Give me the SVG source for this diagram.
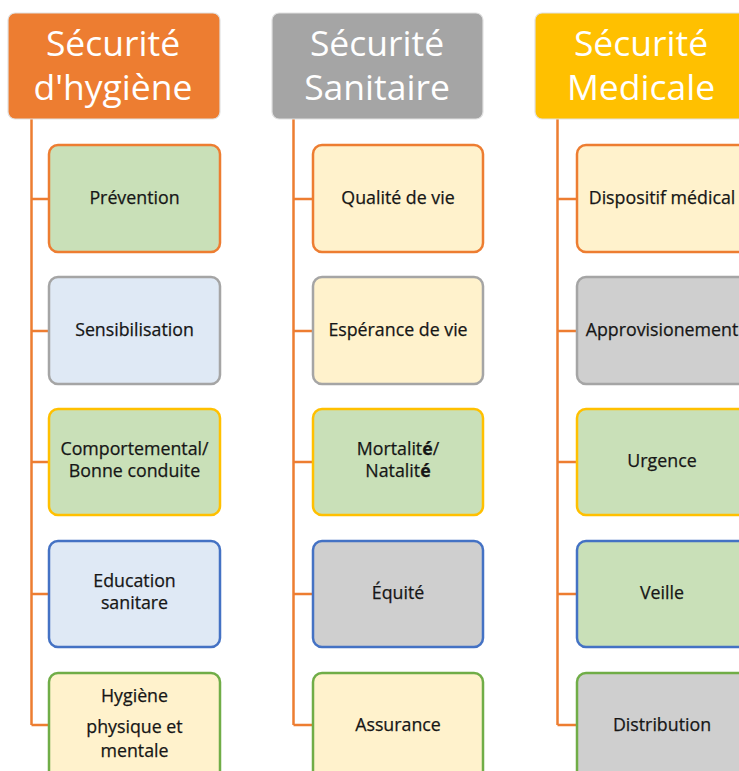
<svg xmlns="http://www.w3.org/2000/svg" width="739" height="771" viewBox="0 0 739 771">
  <style>
    .hdr { stroke: #E2E2E2; stroke-width: 1.2; }
    .htxt { font-family: "Open Sans", "Liberation Sans", sans-serif; font-size: 35.5px; fill: #FFFFFF; text-anchor: middle; }
    .box { stroke-width: 2.5; }
    .txt { font-family: "Open Sans", "Liberation Sans", sans-serif; font-size: 17.8px; fill: #161616; stroke: #161616; stroke-width: 0.25; text-anchor: middle; }
    .b-orange { stroke: #ED7D31; }
    .b-gray { stroke: #A5A5A5; }
    .b-gold { stroke: #FFC000; }
    .b-blue { stroke: #4472C4; }
    .b-green { stroke: #70AD47; }
    .f-green { fill: #C9E0B8; }
    .f-blue { fill: #DFE9F5; }
    .f-cream { fill: #FFF2CC; }
    .f-gray { fill: #CFCFCF; }
    .link { fill: none; stroke: #ED7D31; stroke-width: 2.5; }
  </style>

  <rect width="739" height="771" fill="#FFFFFF"/>

  <!-- tree connectors -->
  <g id="connectors">
    <path class="link" d="M31.5 119 V725 M31.5 199 H49 M31.5 331 H49 M31.5 462 H49 M31.5 594 H49 M31.5 725 H49"/>
    <path class="link" d="M293.5 119 V725 M293.5 199 H313 M293.5 331 H313 M293.5 462 H313 M293.5 594 H313 M293.5 725 H313"/>
    <path class="link" d="M557.5 119 V725 M557.5 199 H577 M557.5 331 H577 M557.5 462 H577 M557.5 594 H577 M557.5 725 H577"/>
  </g>

  <!-- column 1 -->
  <g id="hdr-hygiene">
    <rect class="hdr" x="8" y="13" width="212" height="106" rx="7" fill="#ED7D31"/>
    <text class="htxt" x="113" y="56">Sécurité</text>
    <text class="htxt" x="113" y="100">d'hygiène</text>
  </g>
  <g id="n-prevention">
    <rect class="box b-orange f-green" x="49" y="145" width="171" height="107" rx="9"/>
    <text class="txt" x="134.5" y="204">Prévention</text>
  </g>
  <g id="n-sensibilisation">
    <rect class="box b-gray f-blue" x="49" y="277" width="171" height="107" rx="9"/>
    <text class="txt" x="134.5" y="336">Sensibilisation</text>
  </g>
  <g id="n-comportemental">
    <rect class="box b-gold f-green" x="49" y="409" width="171" height="106" rx="9"/>
    <text class="txt" x="134.5" y="455">Comportemental/</text>
    <text class="txt" x="134.5" y="477">Bonne conduite</text>
  </g>
  <g id="n-education">
    <rect class="box b-blue f-blue" x="49" y="541" width="171" height="106" rx="9"/>
    <text class="txt" x="134.5" y="587">Education</text>
    <text class="txt" x="134.5" y="609">sanitare</text>
  </g>
  <g id="n-hygiene-physique">
    <rect class="box b-green f-cream" x="49" y="673" width="171" height="108" rx="9"/>
    <text class="txt" x="134.5" y="702">Hygiène</text>
    <text class="txt" x="134.5" y="733">physique et</text>
    <text class="txt" x="134.5" y="757">mentale</text>
  </g>

  <!-- column 2 -->
  <g id="hdr-sanitaire">
    <rect class="hdr" x="272" y="13" width="211" height="106" rx="7" fill="#A5A5A5"/>
    <text class="htxt" x="377" y="56">Sécurité</text>
    <text class="htxt" x="377" y="100">Sanitaire</text>
  </g>
  <g id="n-qualite">
    <rect class="box b-orange f-cream" x="313" y="145" width="170" height="107" rx="9"/>
    <text class="txt" x="398" y="204">Qualité de vie</text>
  </g>
  <g id="n-esperance">
    <rect class="box b-gray f-cream" x="313" y="277" width="170" height="107" rx="9"/>
    <text class="txt" x="398" y="336">Espérance de vie</text>
  </g>
  <g id="n-mortalite">
    <rect class="box b-gold f-green" x="313" y="409" width="170" height="106" rx="9"/>
    <text class="txt" x="398" y="455">Mortalit<tspan font-weight="bold">é</tspan>/</text>
    <text class="txt" x="398" y="477">Natalit<tspan font-weight="bold">é</tspan></text>
  </g>
  <g id="n-equite">
    <rect class="box b-blue f-gray" x="313" y="541" width="170" height="106" rx="9"/>
    <text class="txt" x="398" y="599">Équité</text>
  </g>
  <g id="n-assurance">
    <rect class="box b-green f-cream" x="313" y="673" width="170" height="108" rx="9"/>
    <text class="txt" x="398" y="731">Assurance</text>
  </g>

  <!-- column 3 -->
  <g id="hdr-medicale">
    <rect class="hdr" x="535" y="13" width="212" height="106" rx="7" fill="#FFC000"/>
    <text class="htxt" x="641" y="56">Sécurité</text>
    <text class="htxt" x="641" y="100">Medicale</text>
  </g>
  <g id="n-dispositif">
    <rect class="box b-orange f-cream" x="577" y="145" width="171" height="107" rx="9"/>
    <text class="txt" x="662" y="204">Dispositif médical</text>
  </g>
  <g id="n-approvisionement">
    <rect class="box b-gray f-gray" x="577" y="277" width="171" height="107" rx="9"/>
    <text class="txt" x="662" y="336">Approvisionement</text>
  </g>
  <g id="n-urgence">
    <rect class="box b-gold f-green" x="577" y="409" width="171" height="106" rx="9"/>
    <text class="txt" x="662" y="467">Urgence</text>
  </g>
  <g id="n-veille">
    <rect class="box b-blue f-green" x="577" y="541" width="171" height="106" rx="9"/>
    <text class="txt" x="662" y="599">Veille</text>
  </g>
  <g id="n-distribution">
    <rect class="box b-green f-gray" x="577" y="673" width="171" height="108" rx="9"/>
    <text class="txt" x="662" y="731">Distribution</text>
  </g>
</svg>
